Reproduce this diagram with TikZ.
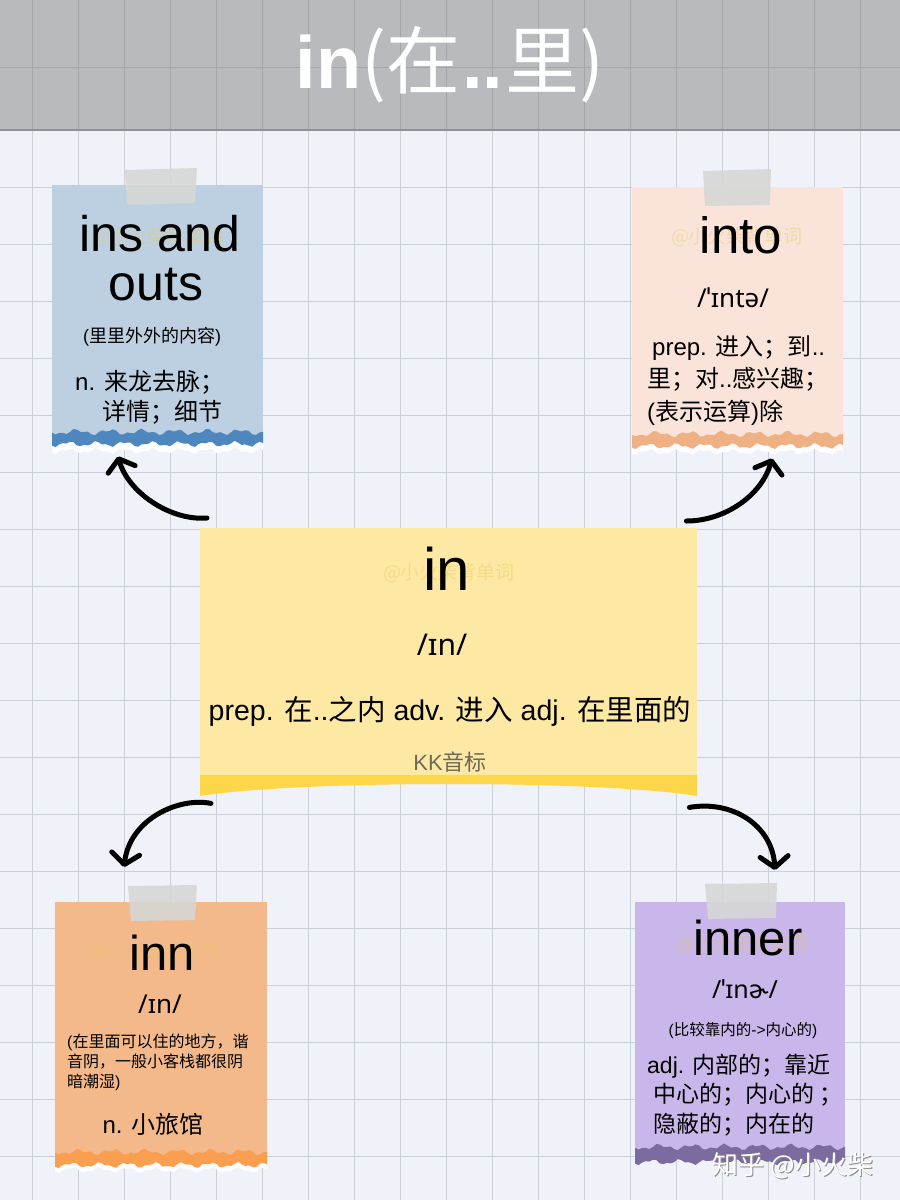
\documentclass[tikz,border=0pt]{standalone}
\usepackage{fontspec}
\setmainfont{Liberation Sans}
\newfontfamily\cjk{Noto Sans CJK SC}
\newfontfamily\ipa{Noto Sans}
\usetikzlibrary{arrows.meta,calc}
\definecolor{bg}{HTML}{EFF2F8}
\definecolor{gridc}{HTML}{CBCFD7}
\definecolor{band}{HTML}{B9BABE}
\definecolor{bandgrid}{HTML}{A5A6AA}
\definecolor{bandline}{HTML}{8F9094}
\definecolor{cBlue}{HTML}{BDD0E2}
\definecolor{sBlue}{HTML}{4E86BE}
\definecolor{cPeach}{HTML}{FAE4DA}
\definecolor{sPeach}{HTML}{EFB184}
\definecolor{cYellow}{HTML}{FDE9A4}
\definecolor{sYellow}{HTML}{FDD649}
\definecolor{cOrange}{HTML}{F4B98B}
\definecolor{sOrange}{HTML}{FA9E4F}
\definecolor{cLav}{HTML}{C9B6EA}
\definecolor{sLav}{HTML}{7C6B9E}
\definecolor{tapec}{HTML}{D6D7D5}
\definecolor{kkc}{HTML}{6E6A58}
\definecolor{wmc}{HTML}{E8C65A}
\newcommand\zh[1]{{\cjk #1}}
\newcommand\fs[1]{\fontsize{#1}{#1}\selectfont}
\newcommand\tornstripe[5]{%
  \fill[#5] plot[domain=#1:#2,samples=60] (\x,{#3+2*sin((\x-#1)*11)+1.5*sin((\x-#1)*27+30)})
    -- plot[domain=#2:#1,samples=60] (\x,{#4+2*sin((\x-#1)*13+50)+1.2*sin((\x-#1)*31)}) -- cycle;}
\tikzset{
  card/.style={rectangle,inner sep=0pt,draw=none,anchor=north west},
  txt/.style={inner sep=0pt,anchor=base},
  txtl/.style={inner sep=0pt,anchor=base west},
  wm/.style={inner sep=0pt,anchor=center,font={\fs{19}\cjk},text=wmc,opacity=0.4},
  tape/.style={fill=tapec,opacity=0.9},
  arr/.style={line width=5pt,line cap=round,-{Straight Barb[round,length=11pt,width=28pt]}}
}
\begin{document}
\begin{tikzpicture}[x=1pt,y=-1pt]
\useasboundingbox (0,0) rectangle (900,1200);
\fill[bg] (0,0) rectangle (900,1200);
% grid
\foreach \gx in {32,78,...,860} \draw[gridc,line width=0.8pt] (\gx,130) -- (\gx,1200);
\foreach \gy in {187,244,...,1200} \draw[gridc,line width=0.8pt] (0,\gy) -- (900,\gy);
% title band
\fill[band] (0,0) rectangle (900,130);
\foreach \gx in {32,78,...,860} \draw[bandgrid,line width=0.8pt] (\gx,0) -- (\gx,130);
\draw[bandgrid,line width=0.8pt] (0,67) -- (900,67);
\draw[bandline,line width=1.5pt] (0,130) -- (900,130);
\node[txt,text=white] (title) at (450,88) {\fs{74}\textbf{in}{\cjk (在}\textbf{\kern2pt..\kern2pt}{\cjk 里)}};

% ---------- cards ----------
% top left
\node[card,fill=cBlue,minimum width=211pt,minimum height=253pt] (tl) at (52,185) {};
\tornstripe{52}{263}{440}{451}{white!85!bg}
\tornstripe{52}{263}{432}{444}{sBlue}
\fill[tape] (125,170) -- (197,168) -- (195,203) -- (127,205) -- cycle;
% top right
\node[card,fill=cPeach,minimum width=211pt,minimum height=253pt] (tr) at (632,187) {};
\tornstripe{632}{843}{442}{452}{white!85!bg}
\tornstripe{632}{843}{434}{446}{sPeach}
\fill[tape] (703,171) -- (771,169) -- (770,205) -- (705,206) -- cycle;
% center
\node[card,fill=cYellow,minimum width=497pt,minimum height=248pt] (ctr) at (200,528) {};
\fill[sYellow] (200,775) -- (697,775) -- (697,796) .. controls (600,780) and (300,780) .. (200,796) -- cycle;
% bottom left
\node[card,fill=cOrange,minimum width=212pt,minimum height=255pt] (bl) at (55,902) {};
\tornstripe{55}{267}{1160}{1170}{white!85!bg}
\tornstripe{55}{267}{1152}{1165}{sOrange}
\fill[tape] (128,886) -- (197,885) -- (195,920) -- (131,921) -- cycle;
% bottom right
\node[card,fill=cLav,minimum width=210pt,minimum height=251pt] (br) at (635,902) {};
\tornstripe{635}{845}{1147}{1162}{sLav}
\fill[tape] (705,884) -- (777,883) -- (776,918) -- (708,919) -- cycle;

% faint watermarks
\node[wm] (wm1) at (158,237) {@小火柴背单词};
\node[wm] (wm2) at (737,237) {@小火柴背单词};
\node[wm] (wm3) at (449,573) {@小火柴背单词};
\node[wm] (wm4) at (155,953) {@小火柴背单词};
\node[wm] (wm5) at (743,945) {@小火柴背单词};

% ---------- texts ----------
\node[txt,font={\fs{50}}] (tlw1) at (160,251) {ins and};
\node[txt,font={\fs{50}}] (tlw2) at (156,300) {outs};
\node[txt,font={\fs{18}}] (tln) at (152,342) {(\zh{里里外外的内容})};
\node[txtl,font={\fs{24}}] (tld1) at (75,390) {n. \zh{来龙去脉；}};
\node[txtl,font={\fs{24}}] (tld2) at (102,420) {\zh{详情；细节}};

\node[txt,font={\fs{51}}] (trw) at (741,253) {into};
\node[txt,font={\fs{26}\ipa}] (trp) at (733,307) {/ˈɪntə/};
\node[txtl,font={\fs{24}}] (trd1) at (652,355) {prep. \zh{进入；到}..};
\node[txtl,font={\fs{24}}] (trd2) at (647,387) {\zh{里；对}..\zh{感兴趣；}};
\node[txtl,font={\fs{24}}] (trd3) at (647,420) {(\zh{表示运算})\zh{除}};

\node[txt,font={\fs{60}}] (cw) at (447,590) {in};
\node[txt,font={\fs{30}\ipa}] (cp) at (442,655) {/ɪn/};
\node[txt,font={\fs{28.5}}] (cd) at (450,720) {prep. \zh{在}..\zh{之内} adv. \zh{进入} adj. \zh{在里面的}};
\node[txt,font={\fs{22}},text=kkc] (ck) at (450,770) {KK\zh{音标}};

\node[txt,font={\fs{49}}] (blw) at (162,970) {inn};
\node[txt,font={\fs{26}\ipa}] (blp) at (160,1013) {/ɪn/};
\node[txtl,font={\fs{16}}] (bln1) at (67,1047) {(\zh{在里面可以住的地方，谐}};
\node[txtl,font={\fs{16}}] (bln2) at (67,1067) {\zh{音阴，一般小客栈都很阴}};
\node[txtl,font={\fs{16}}] (bln3) at (67,1087) {\zh{暗潮湿})};
\node[txt,font={\fs{24}}] (bld) at (153,1133) {n. \zh{小旅馆}};

\node[txt,font={\fs{49}}] (brw) at (748,955) {inner};
\node[txt,font={\fs{25}\ipa}] (brp) at (745,998) {/ˈɪnɚ/};
\node[txt,font={\fs{15.5}}] (brn) at (743,1035) {(\zh{比较靠内的}->\zh{内心的})};
\node[txtl,font={\fs{23}}] (brd1) at (647,1073) {adj. \zh{内部的；靠近}};
\node[txtl,font={\fs{23}}] (brd2) at (653,1102) {\zh{中心的；内心的 ；}};
\node[txtl,font={\fs{23}}] (brd3) at (653,1132) {\zh{隐蔽的；内在的}};

% ---------- arrows ----------
\coordinate (a1s) at ($(ctr.north west)+(7,-10)$);
\coordinate (a1e) at ($(tl.south west)+(66,18)$);
\coordinate (a2s) at ($(ctr.north east)+(-11,-7)$);
\coordinate (a2e) at ($(tr.south west)+(140,18)$);
\coordinate (a3s) at ($(ctr.south west)+(11,27)$);
\coordinate (a3e) at ($(bl.north west)+(69,-35)$);
\coordinate (a4s) at ($(ctr.south east)+(-8,31)$);
\coordinate (a4e) at ($(br.north west)+(140,-32)$);
\draw[arr] (a1s) .. controls (170,521) and (128,492) .. (a1e);
\draw[arr] (a2s) .. controls (725,521) and (762,495) .. (a2e);
\draw[arr] (a3s) .. controls (180,797) and (130,818) .. (a3e);
\draw[arr] (a4s) .. controls (732,800) and (772,825) .. (a4e);

% zhihu watermark
\node[txt,font={\fs{26}\cjk},text=black!45] (zhs) at (794,1175) {知乎 @小火柴};
\node[txt,font={\fs{26}\cjk},text=white] (zh) at (793,1174) {知乎 @小火柴};
\end{tikzpicture}
\end{document}
